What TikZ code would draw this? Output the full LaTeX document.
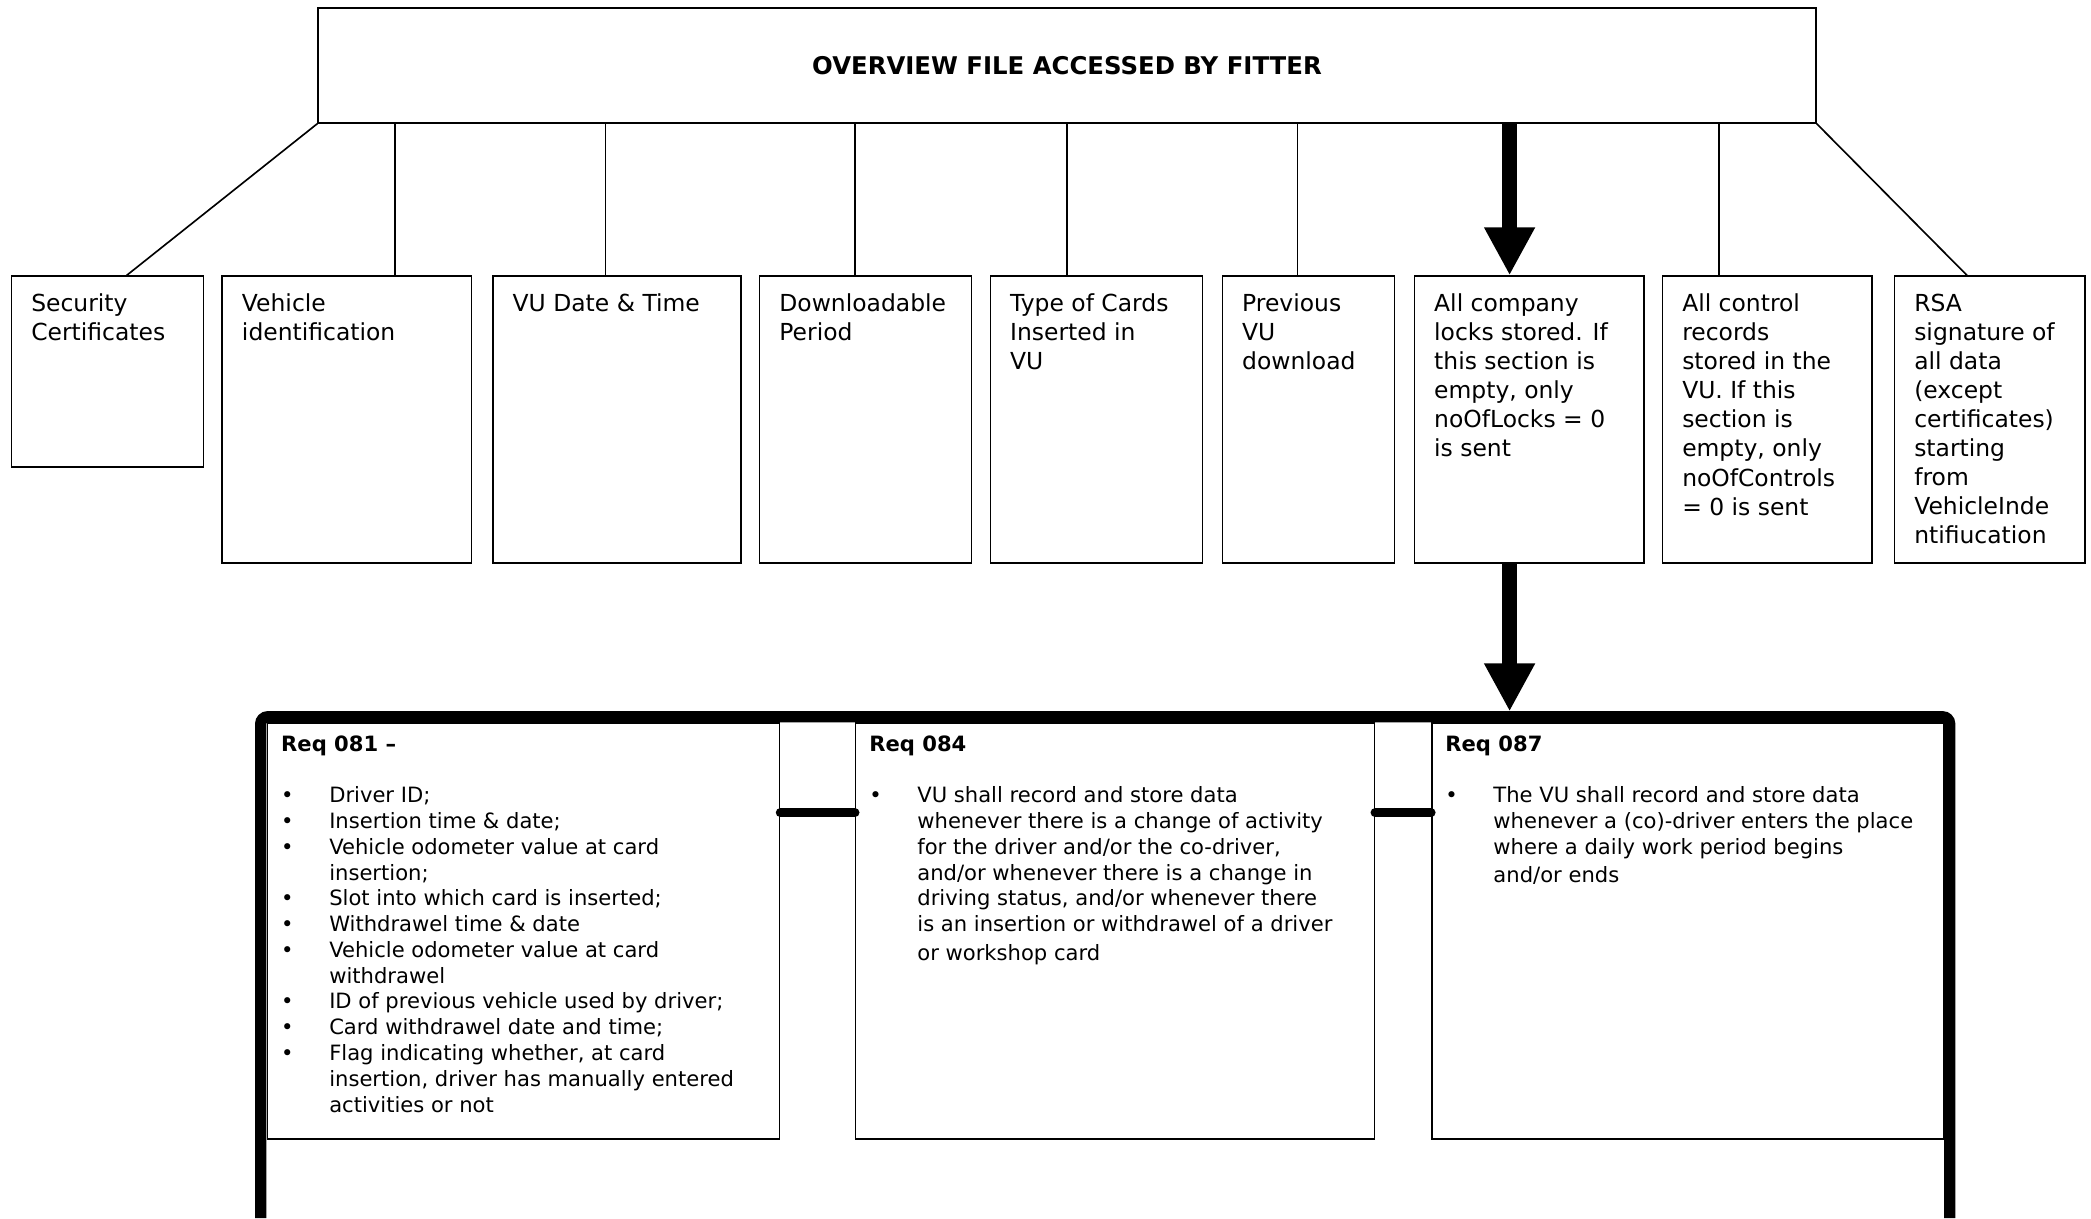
\documentclass[tikz,border=0pt]{standalone}
\usepackage{fontspec}
\setmainfont{DejaVu Sans}
\usetikzlibrary{arrows.meta}

\tikzset{
  cell/.style={draw, line width=0.7pt, anchor=north west, inner sep=0pt},
  celltext/.style={anchor=north west, align=left, inner xsep=8.6pt, inner ysep=7.7pt,
    font=\fontsize{10}{12.4}\selectfont},
  reqtext/.style={anchor=north west, align=left, inner xsep=6pt, inner ysep=5.5pt,
    font=\fontsize{9}{11}\selectfont},
  link/.style={line width=0.7pt},
  bigarrow/.style={line width=6.7pt, -{Triangle[length=20.5pt,width=20.3pt]}},
  joint/.style={line width=4pt, line cap=round},
}
\newcommand{\reqitem}{\makebox[20.5pt][l]{\textbullet}}
\newcommand{\reqcont}{\hspace*{20.5pt}}

\begin{document}
\begin{tikzpicture}
    \useasboundingbox (0,0) rectangle (31.36,18.27);

    % overview file
    \node[cell, minimum width=22.46cm, minimum height=1.72cm,
      font=\fontsize{10.4}{12}\selectfont\bfseries] (top) at (4.76,18.16)
      {OVERVIEW FILE ACCESSED BY FITTER};

    % data blocks
    \node[cell, minimum width=2.88cm, minimum height=2.86cm] (sec) at (0.16,14.14) {};
    \foreach \n/\x/\w in {veh/3.32/3.74, date/7.38/3.72, dlp/11.38/3.18,
                          cards/14.84/3.18, prev/18.32/2.58, locks/21.20/3.44,
                          ctrl/24.92/3.14, rsa/28.40/2.86}
        \node[cell, minimum width=\w cm, minimum height=4.30cm] (\n) at (\x,14.14) {};

    \node[celltext] (sectxt) at (sec.north west) {Security\\Certificates};
    \node[celltext] (vehtxt) at (veh.north west) {Vehicle\\identification};
    \node[celltext] (datetxt) at (date.north west) {VU Date \& Time};
    \node[celltext] (dlptxt) at (dlp.north west) {Downloadable\\Period};
    \node[celltext] (cardstxt) at (cards.north west) {Type of Cards\\Inserted in\\VU};
    \node[celltext] (prevtxt) at (prev.north west) {Previous\\VU\\download};
    \node[celltext] (lockstxt) at (locks.north west) {All company\\locks stored. If\\this section is\\empty, only\\noOfLocks = 0\\is sent};
    \node[celltext] (ctrltxt) at (ctrl.north west) {All control\\records\\stored in the\\VU. If this\\section is\\empty, only\\noOfControls\\= 0 is sent};
    \node[celltext] (rsatxt) at (rsa.north west) {RSA\\signature of\\all data\\(except\\certificates)\\starting\\from\\VehicleInde\\ntifiucation};

    % branches
    \draw[link] (top.south west) -- (sec.north -| 1.90,0);
    \foreach \n/\x in {veh/5.92, date/9.08, dlp/12.82, cards/16.00, prev/19.46, ctrl/25.78}
        \draw[link] (top.south -| \x,0) -- (\n.north -| \x,0);
    \draw[link] (top.south east) -- (rsa.north -| 29.50,0);
    \draw[bigarrow] (top.south -| 22.64,0) -- (locks.north -| 22.64,0);

    % requirements frame
    \coordinate (fsw) at (3.91,0);
    \coordinate (fse) at (29.24,0);
    \coordinate (ftop) at (22.64,7.60);
    \draw[line width=4.8pt, rounded corners=3pt] (fsw) -- (3.91,7.52) -- (29.24,7.52) -- (fse);
    \draw[bigarrow] (locks.south -| 22.64,0) -- (ftop);

    \node[cell, minimum width=7.68cm, minimum height=6.24cm] (r81) at (4.00,7.44) {};
    \node[cell, minimum width=7.78cm, minimum height=6.24cm] (r84) at (12.82,7.44) {};
    \node[cell, minimum width=7.68cm, minimum height=6.24cm] (r87) at (21.46,7.44) {};

    \draw[joint] (r81.east |- 0,6.08) -- (r84.west |- 0,6.08);
    \draw[joint] (r84.east |- 0,6.08) -- (r87.west |- 0,6.08);

    \node[reqtext] (r81txt) at (r81.north west) {\textbf{Req 081 –}\\[11pt]
        \reqitem Driver ID;\\
        \reqitem Insertion time \& date;\\
        \reqitem Vehicle odometer value at card\\
        \reqcont insertion;\\
        \reqitem Slot into which card is inserted;\\
        \reqitem Withdrawel time \& date\\
        \reqitem Vehicle odometer value at card\\
        \reqcont withdrawel\\
        \reqitem ID of previous vehicle used by driver;\\
        \reqitem Card withdrawel date and time;\\
        \reqitem Flag indicating whether, at card\\
        \reqcont insertion, driver has manually entered\\
        \reqcont activities or not};
    \node[reqtext] (r84txt) at (r84.north west) {\textbf{Req 084}\\[11pt]
        \reqitem VU shall record and store data\\
        \reqcont whenever there is a change of activity\\
        \reqcont for the driver and/or the co-driver,\\
        \reqcont and/or whenever there is a change in\\
        \reqcont driving status, and/or whenever there\\
        \reqcont is an insertion or withdrawel of a driver\\[1.5pt]
        \reqcont or workshop card};
    \node[reqtext] (r87txt) at (r87.north west) {\textbf{Req 087}\\[11pt]
        \reqitem The VU shall record and store data\\
        \reqcont whenever a (co)-driver enters the place\\
        \reqcont where a daily work period begins\\[1pt]
        \reqcont and/or ends};
\end{tikzpicture}
\end{document}
